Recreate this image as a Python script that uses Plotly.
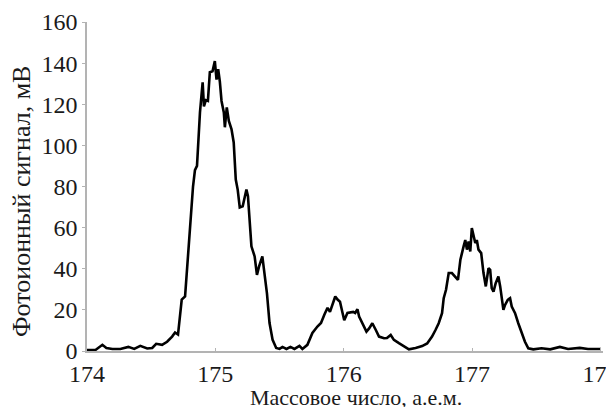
import plotly.graph_objects as go

mass = [174.000, 174.066, 174.120, 174.151, 174.198, 174.260, 174.322, 174.368, 174.415, 174.469,
        174.508, 174.539, 174.585, 174.624, 174.663, 174.686, 174.709, 174.738, 174.764, 174.787,
        174.808, 174.826, 174.841, 174.857, 174.880, 174.901, 174.911, 174.926, 174.942, 174.957,
        174.978, 174.996, 175.009, 175.022, 175.035, 175.048, 175.066, 175.074, 175.089, 175.105,
        175.126, 175.143, 175.159, 175.174, 175.190, 175.213, 175.242, 175.254, 175.281, 175.306,
        175.324, 175.340, 175.366, 175.384, 175.402, 175.422, 175.446, 175.474, 175.500, 175.523,
        175.554, 175.585, 175.616, 175.655, 175.678, 175.717, 175.756, 175.795, 175.823, 175.849,
        175.874, 175.893, 175.913, 175.934, 175.952, 175.971, 175.991, 176.004, 176.029, 176.056,
        176.074, 176.089, 176.107, 176.120, 176.146, 176.177, 176.198, 176.223, 176.250, 176.275,
        176.314, 176.337, 176.366, 176.391, 176.430, 176.469, 176.508, 176.560, 176.611, 176.650,
        176.688, 176.715, 176.740, 176.766, 176.779, 176.797, 176.818, 176.843, 176.870, 176.890,
        176.909, 176.921, 176.934, 176.947, 176.960, 176.973, 176.986, 176.998, 177.012, 177.025,
        177.037, 177.050, 177.071, 177.089, 177.107, 177.128, 177.141, 177.153, 177.167, 177.184,
        177.205, 177.219, 177.244, 177.257, 177.278, 177.296, 177.309, 177.335, 177.360, 177.386,
        177.412, 177.438, 177.477, 177.541, 177.609, 177.684, 177.748, 177.839, 177.903, 178.004]

signal = [0.5, 0.5, 3.0, 1.5, 1.0, 1.0, 2.0, 1.0, 2.5, 1.2,
          1.5, 3.5, 3.0, 4.5, 7.0, 9.0, 8.0, 25.0, 26.5, 47.0,
          63.0, 80.0, 88.0, 90.0, 116.0, 130.7, 119.0, 122.0, 121.6, 135.6,
          136.0, 141.0, 132.0, 137.0, 131.0, 121.6, 116.0, 108.8, 118.5, 111.9,
          107.8, 101.4, 83.4, 78.5, 69.8, 70.4, 78.5, 75.3, 50.9, 46.0,
          37.0, 41.0, 46.0, 38.0, 28.0, 13.6, 5.4, 1.5, 1.0, 2.0,
          1.0, 2.0, 1.0, 2.5, 1.0, 3.0, 8.8, 11.9, 13.6, 17.6,
          21.0, 19.0, 22.4, 26.5, 25.0, 24.0, 18.5, 15.0, 18.5, 18.7,
          19.0, 18.5, 20.3, 16.7, 13.5, 9.4, 11.0, 13.5, 10.2, 7.0,
          6.2, 6.3, 7.8, 5.4, 3.8, 2.1, 0.8, 1.5, 2.4, 3.7,
          7.0, 10.2, 13.5, 18.4, 25.7, 29.8, 37.9, 37.9, 36.2, 34.6,
          44.4, 48.4, 50.9, 54.0, 49.3, 53.3, 48.4, 59.8, 56.6, 52.5,
          54.0, 49.3, 47.6, 37.9, 31.4, 40.3, 39.5, 30.6, 28.9, 33.0,
          36.2, 31.4, 20.0, 22.4, 24.9, 25.7, 21.6, 18.4, 13.5, 8.6,
          4.5, 1.3, 0.8, 1.3, 0.8, 2.0, 1.0, 1.5, 1.0, 1.0]

x_ticks = [174, 175, 176, 177, 178]
y_ticks = [0, 20, 40, 60, 80, 100, 120, 140, 160]
x_title = "Массовое число, а.е.м."
y_title = "Фотоионный сигнал, мВ"

FONT = "Liberation Serif"

fig = go.Figure(go.Scatter(x=mass, y=signal, mode="lines",
                           line=dict(color="black", width=2.6), hoverinfo="skip"))

fig.update_layout(
    width=606, height=407,
    margin=dict(l=87, r=3, t=22, b=56),
    plot_bgcolor="white", paper_bgcolor="white",
    showlegend=False,
    font=dict(family=FONT, color="#1a1a1a"),
    xaxis=dict(range=[174, 178.02], tickvals=x_ticks, ticktext=[str(v) for v in x_ticks],
               showgrid=False, zeroline=False, showline=True, linecolor="#b3b3b3", linewidth=1.5,
               ticks="inside", ticklen=3, tickcolor="#b3b3b3", tickwidth=1,
               ticklabeloverflow="allow", automargin=False,
               tickfont=dict(family=FONT, size=24, color="#1a1a1a")),
    yaxis=dict(range=[0, 160], tickvals=y_ticks, ticktext=[str(v) for v in y_ticks],
               showgrid=False, zeroline=False, showline=True, linecolor="#b3b3b3", linewidth=1.5,
               ticks="outside", ticklen=3, tickcolor="#b3b3b3", tickwidth=1,
               ticklabeloverflow="allow", automargin=False,
               tickfont=dict(family=FONT, size=24, color="#1a1a1a")),
    annotations=[
        dict(text=x_title, xref="paper", yref="paper", x=0.521, y=-0.14,
             xanchor="center", yanchor="middle", showarrow=False,
             font=dict(family=FONT, size=22, color="#1a1a1a")),
        dict(text=y_title, xref="paper", yref="paper", x=-0.126, y=0.456,
             xanchor="center", yanchor="middle", showarrow=False, textangle=-90,
             font=dict(family=FONT, size=26, color="#1a1a1a")),
    ],
)

fig.write_html("out.html", config={"displayModeBar": False},
               post_script="document.body.style.margin='0';")
